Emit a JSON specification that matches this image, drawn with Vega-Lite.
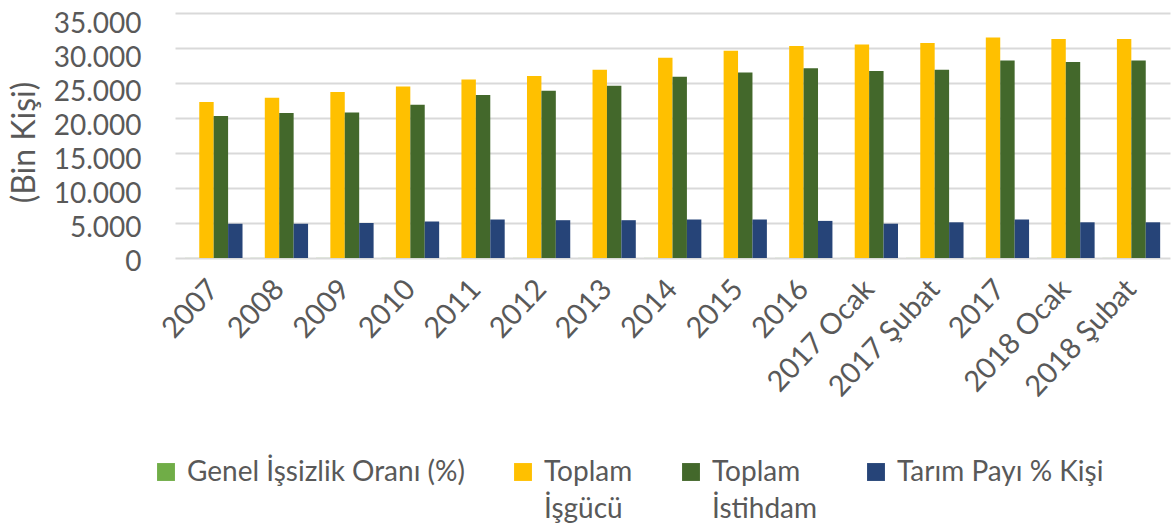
{
  "$schema": "https://vega.github.io/schema/vega-lite/v6.json",
  "width": 995,
  "height": 245,
  "autosize": {"type": "none"},
  "padding": {"left": 175, "top": 13, "right": 6, "bottom": 272},
  "background": "white",
  "config": {
    "font": "Lato",
    "view": {"stroke": null}
  },
  "data": {
    "values": [
      {"donem": "2007", "seri": "Genel İşsizlik Oranı (%)", "deger": 10.3},
      {"donem": "2007", "seri": "Toplam İşgücü", "deger": 22300},
      {"donem": "2007", "seri": "Toplam İstihdam", "deger": 20300},
      {"donem": "2007", "seri": "Tarım Payı % Kişi", "deger": 4900},
      {"donem": "2008", "seri": "Genel İşsizlik Oranı (%)", "deger": 11.0},
      {"donem": "2008", "seri": "Toplam İşgücü", "deger": 22900},
      {"donem": "2008", "seri": "Toplam İstihdam", "deger": 20700},
      {"donem": "2008", "seri": "Tarım Payı % Kişi", "deger": 4900},
      {"donem": "2009", "seri": "Genel İşsizlik Oranı (%)", "deger": 14.0},
      {"donem": "2009", "seri": "Toplam İşgücü", "deger": 23700},
      {"donem": "2009", "seri": "Toplam İstihdam", "deger": 20800},
      {"donem": "2009", "seri": "Tarım Payı % Kişi", "deger": 5000},
      {"donem": "2010", "seri": "Genel İşsizlik Oranı (%)", "deger": 11.9},
      {"donem": "2010", "seri": "Toplam İşgücü", "deger": 24500},
      {"donem": "2010", "seri": "Toplam İstihdam", "deger": 21900},
      {"donem": "2010", "seri": "Tarım Payı % Kişi", "deger": 5200},
      {"donem": "2011", "seri": "Genel İşsizlik Oranı (%)", "deger": 9.8},
      {"donem": "2011", "seri": "Toplam İşgücü", "deger": 25500},
      {"donem": "2011", "seri": "Toplam İstihdam", "deger": 23300},
      {"donem": "2011", "seri": "Tarım Payı % Kişi", "deger": 5500},
      {"donem": "2012", "seri": "Genel İşsizlik Oranı (%)", "deger": 9.2},
      {"donem": "2012", "seri": "Toplam İşgücü", "deger": 26000},
      {"donem": "2012", "seri": "Toplam İstihdam", "deger": 23900},
      {"donem": "2012", "seri": "Tarım Payı % Kişi", "deger": 5400},
      {"donem": "2013", "seri": "Genel İşsizlik Oranı (%)", "deger": 9.7},
      {"donem": "2013", "seri": "Toplam İşgücü", "deger": 26900},
      {"donem": "2013", "seri": "Toplam İstihdam", "deger": 24600},
      {"donem": "2013", "seri": "Tarım Payı % Kişi", "deger": 5400},
      {"donem": "2014", "seri": "Genel İşsizlik Oranı (%)", "deger": 9.9},
      {"donem": "2014", "seri": "Toplam İşgücü", "deger": 28600},
      {"donem": "2014", "seri": "Toplam İstihdam", "deger": 25900},
      {"donem": "2014", "seri": "Tarım Payı % Kişi", "deger": 5500},
      {"donem": "2015", "seri": "Genel İşsizlik Oranı (%)", "deger": 10.3},
      {"donem": "2015", "seri": "Toplam İşgücü", "deger": 29600},
      {"donem": "2015", "seri": "Toplam İstihdam", "deger": 26500},
      {"donem": "2015", "seri": "Tarım Payı % Kişi", "deger": 5500},
      {"donem": "2016", "seri": "Genel İşsizlik Oranı (%)", "deger": 10.9},
      {"donem": "2016", "seri": "Toplam İşgücü", "deger": 30300},
      {"donem": "2016", "seri": "Toplam İstihdam", "deger": 27100},
      {"donem": "2016", "seri": "Tarım Payı % Kişi", "deger": 5300},
      {"donem": "2017 Ocak", "seri": "Genel İşsizlik Oranı (%)", "deger": 12.1},
      {"donem": "2017 Ocak", "seri": "Toplam İşgücü", "deger": 30500},
      {"donem": "2017 Ocak", "seri": "Toplam İstihdam", "deger": 26700},
      {"donem": "2017 Ocak", "seri": "Tarım Payı % Kişi", "deger": 4900},
      {"donem": "2017 Şubat", "seri": "Genel İşsizlik Oranı (%)", "deger": 11.3},
      {"donem": "2017 Şubat", "seri": "Toplam İşgücü", "deger": 30700},
      {"donem": "2017 Şubat", "seri": "Toplam İstihdam", "deger": 26900},
      {"donem": "2017 Şubat", "seri": "Tarım Payı % Kişi", "deger": 5100},
      {"donem": "2017", "seri": "Genel İşsizlik Oranı (%)", "deger": 10.9},
      {"donem": "2017", "seri": "Toplam İşgücü", "deger": 31500},
      {"donem": "2017", "seri": "Toplam İstihdam", "deger": 28200},
      {"donem": "2017", "seri": "Tarım Payı % Kişi", "deger": 5500},
      {"donem": "2018 Ocak", "seri": "Genel İşsizlik Oranı (%)", "deger": 10.8},
      {"donem": "2018 Ocak", "seri": "Toplam İşgücü", "deger": 31300},
      {"donem": "2018 Ocak", "seri": "Toplam İstihdam", "deger": 28000},
      {"donem": "2018 Ocak", "seri": "Tarım Payı % Kişi", "deger": 5100},
      {"donem": "2018 Şubat", "seri": "Genel İşsizlik Oranı (%)", "deger": 10.6},
      {"donem": "2018 Şubat", "seri": "Toplam İşgücü", "deger": 31300},
      {"donem": "2018 Şubat", "seri": "Toplam İstihdam", "deger": 28200},
      {"donem": "2018 Şubat", "seri": "Tarım Payı % Kişi", "deger": 5100}
    ]
  },
  "mark": {"type": "bar"},
  "encoding": {
    "x": {
      "field": "donem",
      "type": "nominal",
      "sort": null,
      "scale": {"paddingInner": 0.12, "paddingOuter": 0.15},
      "axis": {
        "title": null,
        "domain": false,
        "ticks": false,
        "labelAngle": -47,
        "labelAlign": "right",
        "labelBaseline": "middle",
        "labelPadding": 26,
        "labelFontSize": 29,
        "labelColor": "#595959",
        "labelFont": "Lato"
      }
    },
    "xOffset": {
      "field": "seri",
      "type": "nominal",
      "sort": ["Genel İşsizlik Oranı (%)", "Toplam İşgücü", "Toplam İstihdam", "Tarım Payı % Kişi"],
      "scale": {"paddingInner": 0, "paddingOuter": 0}
    },
    "y": {
      "field": "deger",
      "type": "quantitative",
      "scale": {"domain": [0, 35000], "nice": false},
      "axis": {
        "title": "(Bin Kişi)",
        "titleFontSize": 32,
        "titleFontWeight": "normal",
        "titleColor": "#595959",
        "titlePadding": 12,
        "titleY": 129,
        "values": [0, 5000, 10000, 15000, 20000, 25000, 30000, 35000],
        "labelExpr": "replace(format(datum.value, ','), ',', '.')",
        "labelFontSize": 28,
        "labelColor": "#595959",
        "labelPadding": 34,
        "labelOffset": {
          "condition": [
            {"test": "datum.value >= 35000", "value": 11},
            {"test": "datum.value >= 30000", "value": 10},
            {"test": "datum.value >= 25000", "value": 9},
            {"test": "datum.value >= 20000", "value": 8},
            {"test": "datum.value >= 15000", "value": 7},
            {"test": "datum.value >= 10000", "value": 6},
            {"test": "datum.value >= 5000", "value": 5}
          ],
          "value": 4
        },
        "domain": false,
        "ticks": false,
        "gridColor": "#D9D9D9",
        "gridWidth": 2
      }
    },
    "color": {
      "field": "seri",
      "type": "nominal",
      "sort": ["Genel İşsizlik Oranı (%)", "Toplam İşgücü", "Toplam İstihdam", "Tarım Payı % Kişi"],
      "scale": {
        "domain": ["Genel İşsizlik Oranı (%)", "Toplam İşgücü", "Toplam İstihdam", "Tarım Payı % Kişi"],
        "range": ["#70AD47", "#FFC000", "#43682B", "#264478"]
      },
      "legend": {
        "title": null,
        "orient": "none",
        "direction": "horizontal",
        "legendX": -23,
        "legendY": 446,
        "symbolType": "square",
        "symbolSize": 320,
        "symbolStrokeWidth": 0,
        "labelFontSize": 28,
        "labelColor": "#595959",
        "labelLimit": 400,
        "labelOffset": 7,
        "columnPadding": 44,
        "labelBaseline": "top",
        "labelExpr": "datum.label == 'Toplam İşgücü' ? ['Toplam', 'İşgücü'] : datum.label == 'Toplam İstihdam' ? ['Toplam', 'İstihdam'] : [datum.label, ' ']",
        "encode": {
          "symbols": {"update": {"y": {"value": 13}}},
          "labels": {"update": {"lineHeight": {"value": 37}, "y": {"value": 0}}}
        }
      }
    }
  }
}
